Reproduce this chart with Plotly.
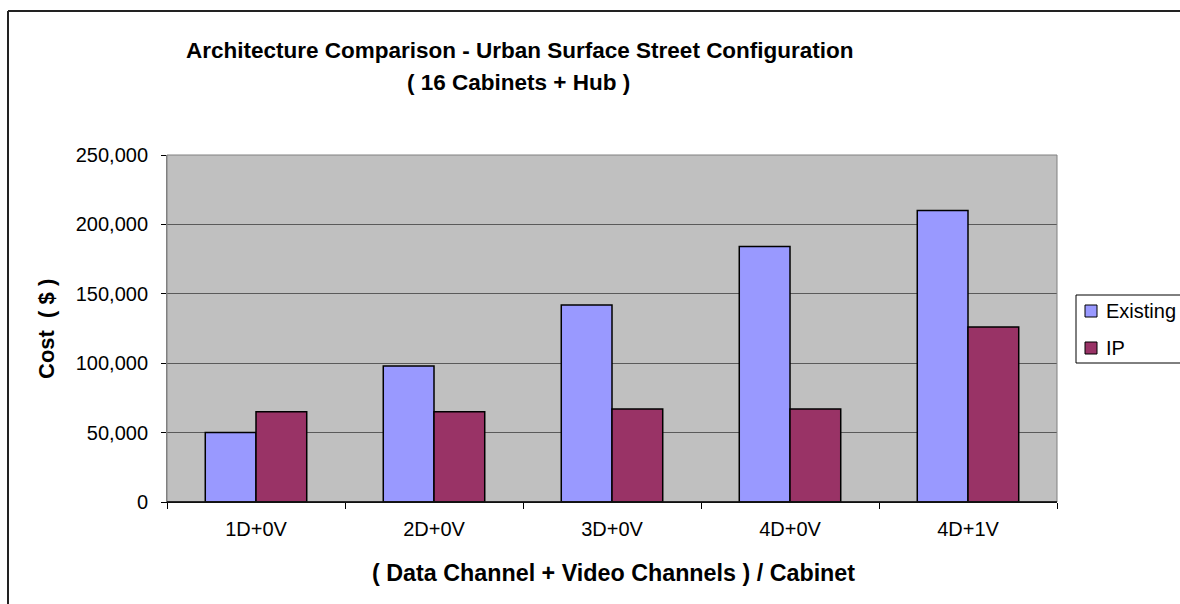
import plotly.graph_objects as go

# Channel configurations per cabinet
categories = ["1D+0V", "2D+0V", "3D+0V", "4D+0V", "4D+1V"]
existing_cost = [50000, 98000, 142000, 184000, 210000]
ip_cost = [65000, 65000, 67000, 67000, 126000]

series_names = ["Existing", "IP"]
series_colors = ["#9999FF", "#993366"]

W, H = 1180, 604
L, R, T, B = 167, 123, 155, 102
PW, PH = W - L - R, H - T - B


def px(x):
    return (x - L) / PW


def py(y):
    return (H - B - y) / PH


FONT = "Liberation Sans, Arial, sans-serif"

fig = go.Figure()
for name, values, color in zip(series_names, [existing_cost, ip_cost], series_colors):
    fig.add_trace(go.Bar(
        x=categories, y=values, name=name,
        marker=dict(color=color, line=dict(color="black", width=1.5)),
        showlegend=False,
    ))

fig.update_layout(
    width=W, height=H,
    margin=dict(l=L, r=R, t=T, b=B, autoexpand=False),
    paper_bgcolor="white",
    plot_bgcolor="#C0C0C0",
    barmode="group",
    bargap=0.43,
    bargroupgap=0,
    font=dict(family=FONT, color="black"),
    xaxis=dict(
        showgrid=False,
        ticks="outside", tickson="boundaries", ticklen=6, tickcolor="black",
        showline=True, linecolor="black", linewidth=1,
        tickfont=dict(size=20),
        ticklabelstandoff=9,
    ),
    yaxis=dict(
        range=[0, 250000], dtick=50000, tickformat=",",
        showgrid=True, gridcolor="#5a5a5a", gridwidth=1,
        ticks="outside", ticklen=5, tickcolor="black",
        showline=True, linecolor="#808080", linewidth=1,
        tickfont=dict(size=20),
        ticklabelstandoff=9,
        zeroline=False,
    ),
)

# Plot area border and baseline
fig.add_shape(type="rect", xref="paper", yref="paper",
              x0=0, x1=1, y0=0, y1=1,
              line=dict(color="#808080", width=1), layer="above")
fig.add_shape(type="line", xref="paper", yref="paper",
              x0=0, x1=1, y0=0, y1=0,
              line=dict(color="black", width=1.5), layer="above")

# Outer chart frame (top and left edges)
frame = dict(color="#222222", width=2)
fig.add_shape(type="line", xref="paper", yref="paper",
              x0=px(8), x1=px(1180), y0=py(11), y1=py(11), line=frame)
fig.add_shape(type="line", xref="paper", yref="paper",
              x0=px(8), x1=px(8), y0=py(11), y1=py(604), line=frame)

# Legend box (open on the right) with swatches
legend_line = dict(color="black", width=1)
fig.add_shape(type="rect", xref="paper", yref="paper",
              x0=px(1076), x1=px(1180), y0=py(363), y1=py(295),
              line=dict(width=0), fillcolor="white")
fig.add_shape(type="path", xref="paper", yref="paper",
              path=(f"M {px(1180)},{py(295)} L {px(1076)},{py(295)} "
                    f"L {px(1076)},{py(363)} L {px(1180)},{py(363)}"),
              line=legend_line)
for i, (name, color) in enumerate(zip(series_names, series_colors)):
    cy = 311 + i * 37
    fig.add_shape(type="rect", xref="paper", yref="paper",
                  x0=px(1085), x1=px(1097), y0=py(cy + 6), y1=py(cy - 6),
                  line=legend_line, fillcolor=color)
    fig.add_annotation(text=name, xref="paper", yref="paper",
                       x=px(1104), y=py(cy), showarrow=False,
                       xanchor="left", yanchor="middle",
                       font=dict(size=20, family=FONT))

# Titles
fig.add_annotation(text="<b>Architecture Comparison - Urban Surface Street Configuration</b>",
                   xref="paper", yref="paper", x=px(520), y=py(50),
                   showarrow=False, font=dict(size=22.5, family=FONT),
                   xanchor="center", yanchor="middle")
fig.add_annotation(text="<b>( 16 Cabinets + Hub )</b>",
                   xref="paper", yref="paper", x=px(518), y=py(82),
                   showarrow=False, font=dict(size=22.5, family=FONT),
                   xanchor="center", yanchor="middle")
fig.add_annotation(text="<b>( Data Channel + Video Channels ) / Cabinet</b>",
                   xref="paper", yref="paper", x=px(613), y=py(573),
                   showarrow=False, font=dict(size=23.3, family=FONT),
                   xanchor="center", yanchor="middle")
fig.add_annotation(text="<b>Cost  ( $ )</b>",
                   xref="paper", yref="paper", x=px(46), y=py(329),
                   showarrow=False, font=dict(size=22, family=FONT),
                   textangle=-90, xanchor="center", yanchor="middle")

fig.write_html("out.html", config={"displayModeBar": False})
